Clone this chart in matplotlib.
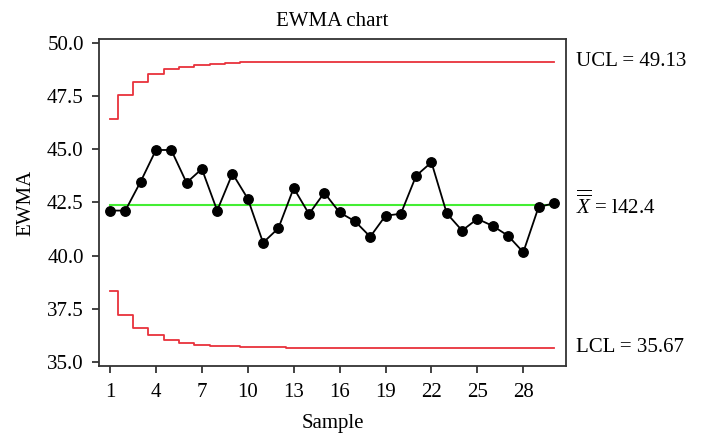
import matplotlib
matplotlib.use("Agg")
import matplotlib.pyplot as plt

plt.rcParams['font.family'] = ['Liberation Serif', 'DejaVu Serif']
plt.rcParams['mathtext.fontset'] = 'custom'
plt.rcParams['mathtext.rm'] = 'Liberation Serif'
plt.rcParams['mathtext.it'] = 'Liberation Serif:italic'

sample = list(range(1, 31))
ewma = [42.12, 42.12, 43.48, 44.97, 44.97, 43.43, 44.08, 42.12, 43.86, 42.68,
        40.61, 41.29, 43.18, 41.96, 42.96, 42.03, 41.62, 40.89, 41.88, 41.97,
        43.76, 44.39, 41.99, 41.18, 41.73, 41.40, 40.94, 40.16, 42.29, 42.46]
ucl = [46.44, 47.57, 48.18, 48.54, 48.76, 48.89, 48.98, 49.03, 49.07, 49.09,
       49.11, 49.11, 49.12, 49.12, 49.13, 49.13, 49.13, 49.13, 49.13, 49.13,
       49.13, 49.13, 49.13, 49.13, 49.13, 49.13, 49.13, 49.13, 49.13, 49.13]
lcl = [38.36, 37.23, 36.62, 36.26, 36.04, 35.91, 35.82, 35.77, 35.73, 35.71,
       35.69, 35.69, 35.68, 35.68, 35.67, 35.67, 35.67, 35.67, 35.67, 35.67,
       35.67, 35.67, 35.67, 35.67, 35.67, 35.67, 35.67, 35.67, 35.67, 35.67]
center = 42.4
xticks = [1, 4, 7, 10, 13, 16, 19, 22, 25, 28]
yticks = [35.0, 37.5, 40.0, 42.5, 45.0, 47.5, 50.0]

fs = 15

fig = plt.figure(figsize=(7.03, 4.48), dpi=100)
ax = fig.add_axes([99 / 703, 1 - 366 / 448, 467 / 703, 327 / 448])

ax.plot(sample, ucl, drawstyle='steps-mid', color='#e8323c', lw=1.3)
ax.plot(sample, lcl, drawstyle='steps-mid', color='#e8323c', lw=1.3)
ax.plot([sample[0], sample[-1]], [center, center], color='#44ee33', lw=1.5)
ax.plot(sample, ewma, color='black', lw=1.3, marker='o', ms=6.8)

ax.set_xlim(0.28, 30.79)
ax.set_ylim(34.81, 50.19)
ax.set_xticks(xticks)
ax.set_yticks(yticks)
ax.set_yticklabels([f"{v:.1f}" for v in yticks])
ax.tick_params(direction='out', length=5, width=1.2, colors='#222222',
               labelsize=fs, labelcolor='black')
ax.tick_params(axis='x', pad=7)
ax.tick_params(axis='y', pad=6)
for s in ax.spines.values():
    s.set_linewidth(1.3)
    s.set_color('#333333')

ax.set_title("EWMA chart", fontsize=fs, pad=9)
ax.set_xlabel("Sample", fontsize=fs, labelpad=9)
ax.set_ylabel("EWMA", fontsize=fs, labelpad=8)

ax.text(1.022, 49.13, "UCL = 49.13", transform=ax.get_yaxis_transform(),
        va='center', ha='left', fontsize=fs)
ax.text(1.022, center, r"$\overline{\overline{X}}$ = l42.4",
        transform=ax.get_yaxis_transform(), va='center', ha='left', fontsize=fs)
ax.text(1.022, 35.67, "LCL = 35.67", transform=ax.get_yaxis_transform(),
        va='center', ha='left', fontsize=fs)

fig.savefig("out.png", dpi=100)
